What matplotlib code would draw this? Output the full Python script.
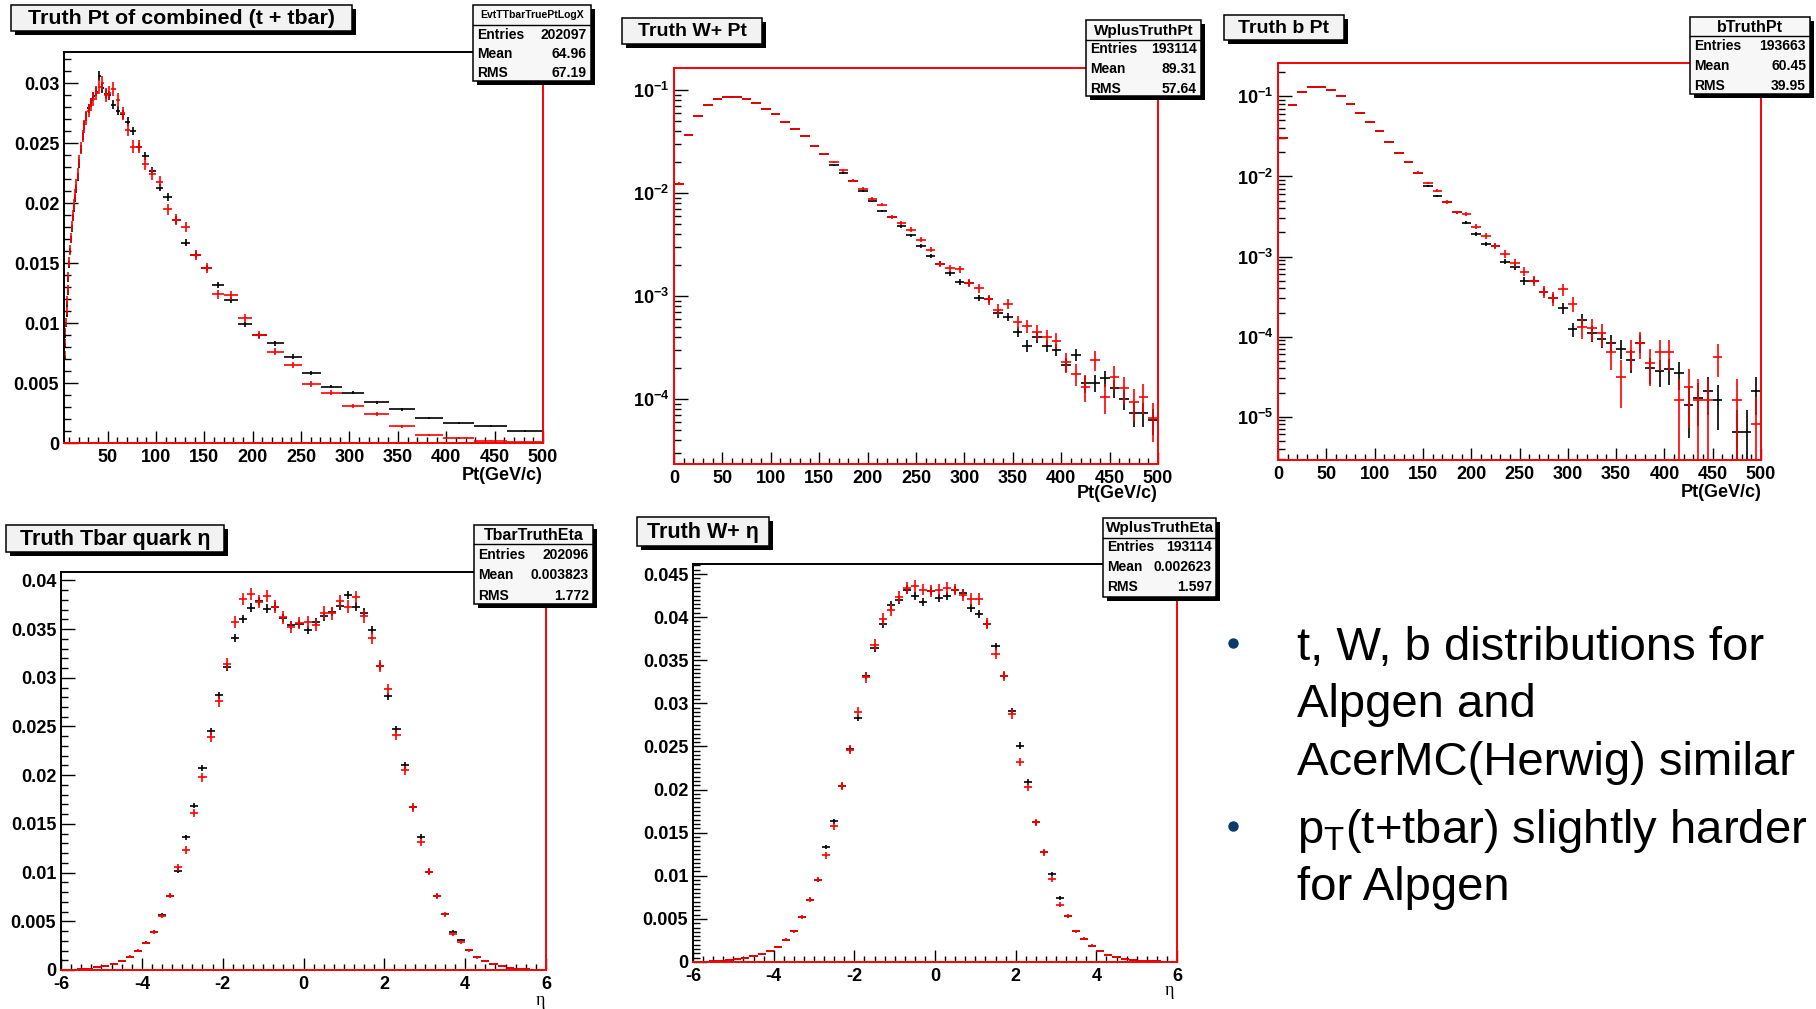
import numpy as np
import matplotlib
matplotlib.use("Agg")
import matplotlib.pyplot as plt
from matplotlib.patches import Rectangle
from matplotlib.ticker import MultipleLocator, LogLocator, FuncFormatter, NullFormatter

W, H = 1816, 1009

plt.rcParams['font.family'] = ['Liberation Sans', 'DejaVu Sans']
plt.rcParams['font.weight'] = 'bold'
plt.rcParams['axes.unicode_minus'] = False
plt.rcParams['mathtext.fontset'] = 'custom'
plt.rcParams['mathtext.rm'] = 'Liberation Sans'
plt.rcParams['mathtext.it'] = 'Liberation Sans:italic'
plt.rcParams['mathtext.bf'] = 'Liberation Sans:bold'

# ---------------- data ----------------
# bin structure of the histograms
pt_log_edges = np.geomspace(5, 500, 61)     # EvtTTbarTruePtLogX: 60 log bins
pt_edges = np.arange(0, 501, 10)            # 10 GeV bins
eta_edges = np.linspace(-6, 6, 61)          # 0.2 wide eta bins

# Truth Pt of combined (t + tbar), black = first sample, red = second sample
ttbar_pt_black = [0.0060, 0.0071, 0.0081, 0.0090, 0.0099, 0.0107, 0.0116, 0.0126, 0.0137, 0.0149,
                  0.0160, 0.0170, 0.0179, 0.0188, 0.0196, 0.0204, 0.0212, 0.0222, 0.0233, 0.0245,
                  0.0256, 0.0265, 0.0272, 0.0279, 0.0284, 0.0289, 0.0293, 0.0306, 0.0296, 0.0291,
                  0.0290, 0.0282, 0.0277, 0.0274, 0.0268, 0.0260, 0.0247, 0.0239, 0.0227, 0.0213,
                  0.0205, 0.0186, 0.0167, 0.0157, 0.0146, 0.0132, 0.0119, 0.0099, 0.0090, 0.0083,
                  0.0072, 0.0058, 0.0047, 0.0042, 0.0034, 0.0028, 0.0021, 0.0017, 0.0014, 0.0010]
ttbar_pt_red = [0.0063, 0.0074, 0.0084, 0.0093, 0.0101, 0.0110, 0.0119, 0.0128, 0.0139, 0.0151,
                0.0161, 0.0171, 0.0181, 0.0190, 0.0199, 0.0207, 0.0215, 0.0224, 0.0235, 0.0246,
                0.0256, 0.0264, 0.0271, 0.0277, 0.0282, 0.0287, 0.0292, 0.0297, 0.0300, 0.0290,
                0.0292, 0.0295, 0.0286, 0.0275, 0.0261, 0.0247, 0.0247, 0.0233, 0.0224, 0.0218,
                0.0195, 0.0186, 0.0180, 0.0157, 0.0146, 0.0124, 0.0123, 0.0104, 0.0090, 0.0076,
                0.0065, 0.0049, 0.0042, 0.0031, 0.0024, 0.0014, 0.0007, 0.0004, 0.0002, 0.0001]

# Truth W+ Pt
w_pt_black = [0.0124, 0.0366, 0.0564, 0.0715, 0.0823, 0.0855, 0.0865, 0.0818, 0.0753, 0.0664,
              0.0585, 0.0496, 0.0425, 0.0357, 0.0290, 0.0239, 0.0187, 0.0157, 0.0131, 0.0105,
              0.0085, 0.00675, 0.00589, 0.00478, 0.00391, 0.00308, 0.00245, 0.00207, 0.00167, 0.00138,
              0.00135, 0.00096, 0.00093, 0.00068, 0.00063, 0.00045, 0.00033, 0.00040, 0.00033, 0.00030,
              0.000215, 0.00027, 0.000142, 0.000144, 0.000159, 0.000127, 0.000101, 0.000073, 0.000073, 0.0000625]
w_pt_red = [0.0124, 0.0366, 0.0564, 0.0715, 0.0823, 0.0855, 0.0865, 0.0818, 0.0753, 0.0664,
            0.0585, 0.0496, 0.0425, 0.0357, 0.0290, 0.0239, 0.0201, 0.0167, 0.0133, 0.0111,
            0.0088, 0.00776, 0.00589, 0.00515, 0.00444, 0.00355, 0.00284, 0.00207, 0.00186, 0.00184,
            0.00135, 0.00119, 0.00093, 0.00074, 0.00084, 0.00056, 0.00051, 0.00045, 0.00040, 0.00037,
            0.00023, 0.000177, 0.000132, 0.00024, 0.000105, 0.000165, 0.000127, 0.000094, 0.000105, 0.000065]

# Truth b Pt (nan = empty bin)
b_pt_black = [0.0301, 0.0786, 0.112, 0.131, 0.131, 0.119, 0.100, 0.081, 0.062, 0.0473,
              0.0365, 0.0266, 0.0196, 0.0151, 0.0112, 0.00764, 0.00573, 0.00482, 0.00355, 0.00266,
              0.00192, 0.00144, 0.00136, 0.000866, 0.000736, 0.000497, 0.0005, 0.000365, 0.000302, 0.000226,
              0.000124, 0.000162, 0.00011, 0.000093, 0.000084, 0.000071, 0.000051, 0.000083, 0.00004, 0.0000376,
              0.000039, 0.000035, 0.000014, 0.000017, 0.000021, 0.000016, np.nan, 0.0000064, 0.0000064, 0.000021]
b_pt_red = [0.0301, 0.0786, 0.112, 0.131, 0.131, 0.119, 0.100, 0.081, 0.062, 0.0473,
            0.0365, 0.0266, 0.0196, 0.0151, 0.0112, 0.00826, 0.00662, 0.00482, 0.00355, 0.00338,
            0.00237, 0.00181, 0.00136, 0.00108, 0.000826, 0.00065, 0.0005, 0.000365, 0.000302, 0.000391,
            0.000256, 0.000133, 0.000127, 0.00011, 0.000065, 0.0000316, 0.000065, 0.000083, 0.000047, 0.000064,
            0.000064, 0.000016, 0.0000233, 0.000016, 0.000016, 0.000056, np.nan, 0.000016, np.nan, 0.0000081]

# Truth Tbar quark eta
tbar_eta_black = [0.00002, 0.00004, 0.00008, 0.00015, 0.00027, 0.00045, 0.00062, 0.00096, 0.00137, 0.0020,
                  0.00281, 0.00394, 0.00565, 0.00764, 0.0102, 0.01363, 0.01688, 0.0207, 0.0245, 0.0282,
                  0.0311, 0.0341, 0.0360, 0.0372, 0.0379, 0.0371, 0.0373, 0.0361, 0.03545, 0.03555,
                  0.0349, 0.0357, 0.0363, 0.0368, 0.0374, 0.0385, 0.0373, 0.0367, 0.0349, 0.0312,
                  0.0281, 0.0247, 0.0210, 0.0167, 0.0137, 0.0101, 0.0076, 0.0057, 0.00394, 0.00308,
                  0.00205, 0.0013, 0.00096, 0.00062, 0.0004, 0.00024, 0.00014, 0.00008, 0.00004, 0.00002]
tbar_eta_red = [0.00002, 0.00004, 0.00008, 0.00015, 0.00027, 0.00045, 0.00062, 0.00096, 0.00137, 0.0020,
                0.00281, 0.00394, 0.00555, 0.00764, 0.01055, 0.01233, 0.0161, 0.0198, 0.0239, 0.0276,
                0.03144, 0.0357, 0.0381, 0.0386, 0.0378, 0.0384, 0.0373, 0.0362, 0.0352, 0.0356,
                0.0357, 0.03545, 0.0367, 0.0366, 0.0379, 0.0373, 0.0383, 0.0363, 0.0341, 0.0312,
                0.0288, 0.0241, 0.0205, 0.0167, 0.0131, 0.0101, 0.0076, 0.0057, 0.0037, 0.00288,
                0.00205, 0.0013, 0.00096, 0.00062, 0.0004, 0.00024, 0.00014, 0.00008, 0.00004, 0.00002]

# Truth W+ eta
w_eta_black = [0.00002, 0.00004, 0.00007, 0.00012, 0.0002, 0.0003, 0.00045, 0.00066, 0.00093, 0.00124,
               0.00174, 0.00259, 0.00356, 0.00522, 0.00723, 0.00955, 0.01334, 0.01631, 0.0204, 0.0247,
               0.0283, 0.0332, 0.0364, 0.0392, 0.04144, 0.0420, 0.0432, 0.0425, 0.0417, 0.0430,
               0.04222, 0.0425, 0.0431, 0.0428, 0.04106, 0.0404, 0.03924, 0.0366, 0.0332, 0.0291,
               0.0251, 0.02084, 0.0162, 0.01272, 0.01021, 0.00742, 0.0053, 0.00356, 0.00267, 0.0019,
               0.00124, 0.00085, 0.00058, 0.0004, 0.00025, 0.00015, 0.0001, 0.00006, 0.00003, 0.00002]
w_eta_red = [0.00002, 0.00004, 0.00007, 0.00012, 0.0002, 0.0003, 0.00045, 0.00066, 0.00093, 0.00124,
             0.00174, 0.00259, 0.00356, 0.00522, 0.00723, 0.00955, 0.01237, 0.01573, 0.0204, 0.0246,
             0.0290, 0.0330, 0.0368, 0.0398, 0.04086, 0.04233, 0.0434, 0.04357, 0.0432, 0.04307,
             0.0432, 0.04338, 0.0432, 0.0426, 0.0421, 0.0421, 0.03924, 0.03576, 0.0332, 0.0288,
             0.0232, 0.0203, 0.0162, 0.01272, 0.00963, 0.00665, 0.0053, 0.00356, 0.00267, 0.0019,
             0.00124, 0.00085, 0.00058, 0.0004, 0.00025, 0.00015, 0.0001, 0.00006, 0.00003, 0.00002]

titles = ["Truth Pt of combined (t + tbar)", "Truth W+ Pt", "Truth b Pt",
          "Truth Tbar quark \u03b7", "Truth W+ \u03b7"]
stat_names = ["EvtTTbarTruePtLogX", "WplusTruthPt", "bTruthPt", "TbarTruthEta", "WplusTruthEta"]
stat_entries = [202097, 193114, 193663, 202096, 193114]
stat_mean = ["64.96", "89.31", "60.45", "0.003823", "0.002623"]
stat_rms = ["67.19", "57.64", "39.95", "1.772", "1.597"]
alt_entries = 90000   # effective statistics of the red sample (for its error bars)

bullets = [["t, W, b distributions for", "Alpgen and", "AcerMC(Herwig) similar"],
           [r"$\mathregular{p_{T}}$(t+tbar) slightly harder", "for Alpgen"]]


# ---------------- helpers ----------------
def px_axes(fig, l, t, r, b):
    return fig.add_axes([l / W, 1 - b / H, (r - l) / W, (b - t) / H])


def draw_hist(ax, edges, values, color, entries, log=False):
    edges = np.asarray(edges, float)
    vals = np.asarray(values, float)
    centers = 0.5 * (edges[:-1] + edges[1:])
    half = 0.5 * np.diff(edges)
    err = np.sqrt(vals / entries)
    low = np.minimum(err, vals * 0.999) if log else err
    ax.errorbar(centers, vals, xerr=half, yerr=[low, err], fmt='none',
                ecolor=color, elinewidth=1.2, capsize=0)


def style_axes(ax, red_sides, xmaj, xmin, ymaj=None, ymin=None, log=False):
    for side, sp in ax.spines.items():
        sp.set_linewidth(1.4)
        sp.set_color('red' if side in red_sides else 'black')
        sp.set_zorder(5)
    ax.xaxis.set_major_locator(MultipleLocator(xmaj))
    ax.xaxis.set_minor_locator(MultipleLocator(xmin))
    ax.xaxis.set_major_formatter(FuncFormatter(lambda v, p: '%g' % v))
    if log:
        ax.set_yscale('log')
        ax.yaxis.set_major_locator(LogLocator(base=10))
        ax.yaxis.set_minor_locator(LogLocator(base=10, subs=np.arange(2, 10)))
        ax.yaxis.set_major_formatter(FuncFormatter(
            lambda v, p: r'$\mathregular{10^{%d}}$' % round(np.log10(v))))
        ax.yaxis.set_minor_formatter(NullFormatter())
    else:
        ax.yaxis.set_major_locator(MultipleLocator(ymaj))
        ax.yaxis.set_minor_locator(MultipleLocator(ymin))
        ax.yaxis.set_major_formatter(FuncFormatter(lambda v, p: '%g' % v))
    ax.tick_params(which='both', direction='in', top=False, right=False,
                   width=1.0, labelsize=13)
    ax.tick_params(axis='y', which='major', length=10, pad=3.5)
    ax.tick_params(axis='y', which='minor', length=5)
    ax.tick_params(axis='x', which='major', length=8.5, pad=4.5)
    ax.tick_params(axis='x', which='minor', length=4.3)


def shadow_box(ov, l, t, r, b, shadow=4, face='#f2f2f2'):
    ov.add_patch(Rectangle((l + shadow, t + shadow), r - l, b - t,
                           facecolor='black', edgecolor='black', lw=0, zorder=10))
    ov.add_patch(Rectangle((l, t), r - l, b - t, facecolor=face,
                           edgecolor='black', lw=1.1, zorder=11))


def stats_box(ov, box, hline, rows_y, head_y, i, head_size, row_size):
    l, t, r, b = box
    shadow_box(ov, l, t, r, b, shadow=4, face='#f7f7f7')
    ov.plot([l, r], [hline, hline], color='black', lw=1.0, zorder=12)
    ov.text((l + r) / 2, head_y, stat_names[i], ha='center', va='center',
            fontsize=head_size, zorder=13)
    labels = ['Entries', 'Mean', 'RMS']
    vals = [str(stat_entries[i]), stat_mean[i], stat_rms[i]]
    for y, lab, val in zip(rows_y, labels, vals):
        ov.text(l + 4, y, lab, ha='left', va='center', fontsize=row_size, zorder=13)
        ov.text(r - 4, y, val, ha='right', va='center', fontsize=row_size, zorder=13)


# ---------------- figure ----------------
fig = plt.figure(figsize=(W / 100, H / 100), dpi=100)

# panel 1: Truth Pt of combined (t + tbar)
ax1 = px_axes(fig, 64, 52, 543, 443)
draw_hist(ax1, pt_log_edges, ttbar_pt_black, 'black', stat_entries[0])
draw_hist(ax1, pt_log_edges, ttbar_pt_red, 'red', alt_entries)
ax1.set_xlim(5, 500)
ax1.set_ylim(0, 0.0326)
style_axes(ax1, ('right', 'bottom'), 50, 10, 0.005, 0.001)

# panel 2: Truth W+ Pt
ax2 = px_axes(fig, 674, 68, 1158, 464)
draw_hist(ax2, pt_edges, w_pt_black, 'black', stat_entries[1], log=True)
draw_hist(ax2, pt_edges, w_pt_red, 'red', alt_entries, log=True)
ax2.set_xlim(0, 500)
ax2.set_ylim(2.34e-5, 0.165)
style_axes(ax2, ('left', 'right', 'top', 'bottom'), 50, 10, log=True)

# panel 3: Truth b Pt
ax3 = px_axes(fig, 1278, 63, 1761, 460)
draw_hist(ax3, pt_edges, b_pt_black, 'black', stat_entries[2], log=True)
draw_hist(ax3, pt_edges, b_pt_red, 'red', alt_entries, log=True)
ax3.set_xlim(0, 500)
ax3.set_ylim(2.88e-6, 0.261)
style_axes(ax3, ('left', 'right', 'top', 'bottom'), 50, 10, log=True)

# panel 4: Truth Tbar quark eta
ax4 = px_axes(fig, 61, 572, 546, 970)
draw_hist(ax4, eta_edges, tbar_eta_black, 'black', stat_entries[3])
draw_hist(ax4, eta_edges, tbar_eta_red, 'red', alt_entries)
ax4.set_xlim(-6, 6)
ax4.set_ylim(0, 0.04086)
style_axes(ax4, ('right', 'bottom'), 2, 0.25, 0.005, 0.001)

# panel 5: Truth W+ eta
ax5 = px_axes(fig, 693, 564, 1177, 962)
draw_hist(ax5, eta_edges, w_eta_black, 'black', stat_entries[4])
draw_hist(ax5, eta_edges, w_eta_red, 'red', alt_entries)
ax5.set_xlim(-6, 6)
ax5.set_ylim(0, 0.04616)
style_axes(ax5, ('right', 'bottom'), 2, 0.25, 0.005, 0.0005)

# overlay in pixel coordinates for the ROOT boxes and the slide text
ov = fig.add_axes([0, 0, 1, 1], zorder=20)
ov.set_xlim(0, W)
ov.set_ylim(H, 0)
ov.axis('off')

title_boxes = [(11, 5, 352, 31), (622, 18, 762, 44), (1224, 15, 1344, 40),
               (6, 525, 224, 552), (637, 517, 769, 546)]
title_sizes = [15.4, 14, 14, 15.5, 15.5]
for i, (l, t, r, b) in enumerate(title_boxes):
    shadow_box(ov, l, t, r, b, shadow=4)
    ov.text((l + r) / 2, (t + b) / 2 + 1, titles[i], ha='center', va='center',
            fontsize=title_sizes[i], zorder=13)

stats_box(ov, (473, 5, 591, 81), 25, (35, 54, 73), 15, 0, 7.5, 10)
stats_box(ov, (1086, 20, 1201, 96), 40, (49, 69, 89), 31, 1, 11, 10)
stats_box(ov, (1690, 17, 1810, 94), 36, (46, 66, 86), 27, 2, 11.5, 10)
stats_box(ov, (474, 525, 593, 604), 544, (555, 575, 596), 535, 3, 11.5, 10)
stats_box(ov, (1103, 518, 1216, 597), 538, (547, 567, 587), 528, 4, 11, 10)

# axis titles (ROOT puts them at the right end, below the labels)
for x, y in [(543, 480), (1158, 498), (1762, 497)]:
    ov.text(x, y, 'Pt(GeV/c)', ha='right', va='baseline', fontsize=13)
for x, y in [(540, 1005), (1169, 995)]:
    ov.text(x, y, '\u03b7', ha='center', va='baseline', fontsize=13,
            family=['Liberation Serif', 'DejaVu Serif'], weight='normal')

# slide bullet text
line_y = [[660, 717, 775], [843, 900]]
dot_y = [643, 826]
for block, ys, dy in zip(bullets, line_y, dot_y):
    ov.plot([1233], [dy], 'o', color='#0b3a6a', markersize=6.5, zorder=13)
    for txt, y in zip(block, ys):
        ov.text(1297, y, txt, ha='left', va='baseline', fontsize=34,
                weight='normal', color='black', zorder=13)

fig.savefig('out.png', dpi=100)
